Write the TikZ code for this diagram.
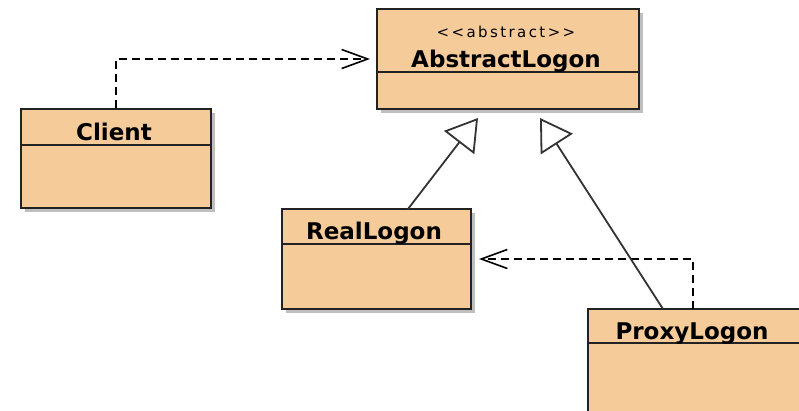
\documentclass[tikz,border=0pt]{standalone}
\usepackage{fontspec}
\setmainfont{DejaVu Sans}
\newfontfamily\stereofont[LetterSpace=16]{DejaVu Sans}
\usetikzlibrary{calc,arrows.meta}
\definecolor{classfill}{RGB}{245,204,153}
\definecolor{classline}{RGB}{34,34,34}
\tikzset{
  classbox/.style={draw=classline,line width=2pt,fill=classfill,inner sep=0pt,rectangle},
  classname/.style={anchor=base,inner sep=0pt,font=\fontsize{23}{23}\selectfont\bfseries},
  stereo/.style={anchor=base,inner sep=0pt,font=\fontsize{15}{15}\stereofont},
  depend/.style={draw=black,line width=1.6pt,dash pattern=on 8pt off 5pt,-{Straight Barb[length=26pt,width=19pt,line width=1.6pt]}},
  inherit/.style={draw=black!80,line width=1.8pt,-{Triangle[open,length=31pt,width=38pt,line width=1.8pt,fill=white]}}
}
\newcommand{\umlclass}[6]{% name, left, top, width, height, divider
  \fill[black!25] (#2+4,#3+4) rectangle ++(#4,#5);
  \node[classbox,minimum width=#4,minimum height=#5] (#1) at (#2+#4/2,#3+#5/2) {};
  \draw[classline,line width=1.5pt] ($(#1.north west)+(0,#6)$) -- ($(#1.north east)+(0,#6)$);
}

\begin{document}
\begin{tikzpicture}[x=1pt,y=-1pt]
		\useasboundingbox (0,0) rectangle (799,410);
		\fill[white] (0,0) rectangle (799,410);
		\clip (0,0) rectangle (799,410);

		\umlclass{abstract}{377}{9}{262}{100}{64}
		\umlclass{client}{21}{109}{190}{99}{37}
		\umlclass{real}{282}{209}{189}{100}{36}
		\umlclass{proxy}{588}{309}{240}{106}{35}

		\node[stereo] (abstractstereo) at (506,37) {{<}{<}abstract{>}{>}};
		\node[classname] (abstractname) at (506,67) {AbstractLogon};
		\node[classname] (clientname) at (114,140) {Client};
		\node[classname] (realname) at (374,239) {RealLogon};
		\node[classname] (proxyname) at (692,339) {ProxyLogon};

		\coordinate (realtop) at (408,209);
		\coordinate (realtip) at (478,118);
		\coordinate (proxytop) at (663,309);
		\coordinate (proxytip) at (540,118);
		\coordinate (proxydep) at (693,309);

		\draw[depend,shorten >=6pt] (client.north) |- (abstract.west);
		\draw[depend,shorten >=7pt] (proxydep) |- (real.east);
		\draw[inherit] (realtop) -- (realtip);
		\draw[inherit] (proxytop) -- (proxytip);
	\end{tikzpicture}
\end{document}
